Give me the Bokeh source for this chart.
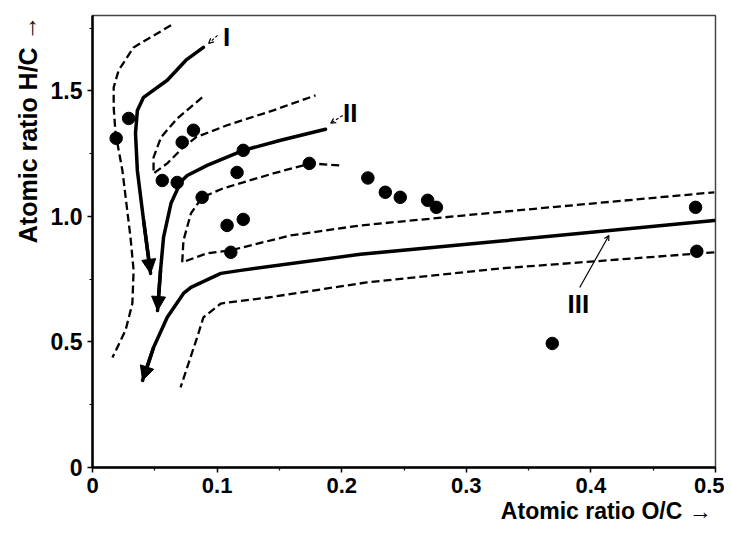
from bokeh.plotting import figure
from bokeh.models import FixedTicker, Range1d, Arrow, NormalHead, OpenHead, Title
from bokeh.core.properties import value
from bokeh.embed import file_html
from bokeh.resources import INLINE

# ---- data ----
sample_oc = [0.019, 0.029, 0.056, 0.068, 0.072, 0.081, 0.121, 0.116, 0.088, 0.108,
             0.121, 0.111, 0.174, 0.221, 0.235, 0.247, 0.269, 0.276, 0.484, 0.485, 0.369]
sample_hc = [1.311, 1.390, 1.143, 1.135, 1.295, 1.343, 1.263, 1.175, 1.076, 0.964,
             0.988, 0.857, 1.211, 1.153, 1.096, 1.076, 1.064, 1.036, 1.036, 0.861, 0.494]

# solid evolution paths (from start to arrow tip)
path1_oc = [0.089, 0.075, 0.060, 0.041, 0.036, 0.0345, 0.036, 0.041, 0.0466]
path1_hc = [1.673, 1.622, 1.542, 1.474, 1.422, 1.331, 1.183, 0.984, 0.773]
path2_oc = [0.187, 0.151, 0.121, 0.092, 0.076, 0.071, 0.063, 0.057, 0.0546, 0.0522]
path2_hc = [1.347, 1.303, 1.263, 1.203, 1.163, 1.139, 1.052, 0.916, 0.785, 0.625]
path3_oc = [0.499, 0.328, 0.215, 0.119, 0.103, 0.079, 0.073, 0.060, 0.049, 0.0402]
path3_hc = [0.984, 0.902, 0.849, 0.785, 0.773, 0.717, 0.693, 0.598, 0.478, 0.347]

# dashed band boundaries
band1_oc = [0.063, 0.033, 0.021, 0.017, 0.017, 0.0185, 0.024, 0.0305, 0.033, 0.032, 0.0265, 0.016]
band1_hc = [1.761, 1.673, 1.582, 1.514, 1.434, 1.331, 1.183, 0.916, 0.785, 0.653, 0.546, 0.438]
band2_oc = [0.088, 0.068, 0.055, 0.049, 0.049, 0.060, 0.072, 0.083, 0.108, 0.145, 0.179]
band2_hc = [1.474, 1.390, 1.315, 1.235, 1.171, 1.211, 1.271, 1.315, 1.363, 1.422, 1.482]
band3_oc = [0.198, 0.175, 0.145, 0.105, 0.088, 0.079, 0.073, 0.072, 0.092, 0.111, 0.159, 0.215, 0.328, 0.499]
band3_hc = [1.203, 1.211, 1.171, 1.112, 1.076, 1.012, 0.904, 0.817, 0.853, 0.865, 0.924, 0.964, 1.018, 1.096]
band4_oc = [0.499, 0.328, 0.220, 0.141, 0.103, 0.089, 0.084, 0.077, 0.0707]
band4_hc = [0.857, 0.793, 0.737, 0.677, 0.653, 0.598, 0.518, 0.414, 0.319]

# type labels and leaders
type_labels = ["I", "II", "III"]
type_label_oc = [0.1076, 0.2068, 0.390]
type_label_hc = [1.713, 1.410, 0.653]
leader_start_oc = [0.1004, 0.2008, 0.391]
leader_start_hc = [1.721, 1.402, 0.717]
leader_end_oc = [0.0932, 0.1912, 0.4145]
leader_end_hc = [1.689, 1.371, 0.924]

x_ticks = [0, 0.1, 0.2, 0.3, 0.4, 0.5]
x_tick_labels = ["0", "0.1", "0.2", "0.3", "0.4", "0.5"]
x_minor = [0.05, 0.15, 0.25, 0.35, 0.45]
y_ticks = [0, 0.5, 1.0, 1.5]
y_tick_labels = ["0", "0.5", "1.0", "1.5"]
y_minor = [0.25, 0.75, 1.25, 1.75]

x_title = "Atomic ratio O/C   \u2192"
y_title = "Atomic ratio H/C   \u2192"

FONT = "Liberation Sans"

p = figure(width=724, height=528, output_backend="svg", toolbar_location=None,
           x_range=Range1d(0, 0.5), y_range=Range1d(0, 1.8),
           min_border_left=92, min_border_right=9, min_border_top=15, min_border_bottom=61)
p.grid.visible = False
p.outline_line_color = "#444444"
p.outline_line_width = 1.5
p.background_fill_color = "white"
p.border_fill_color = "white"

for ax, ticks, labels, minor in ((p.xaxis[0], x_ticks, x_tick_labels, x_minor),
                                 (p.yaxis[0], y_ticks, y_tick_labels, y_minor)):
    ax.ticker = FixedTicker(ticks=ticks, minor_ticks=minor)
    ax.major_label_overrides = {t: l for t, l in zip(ticks, labels)}
    ax.axis_line_width = 2.5
    ax.axis_line_color = "black"
    ax.major_tick_in = 0
    ax.major_tick_out = 5
    ax.minor_tick_in = 0
    ax.minor_tick_out = 3
    ax.major_tick_line_width = 1.5
    ax.minor_tick_line_width = 1.2
    ax.major_label_text_font = FONT
    ax.major_label_text_font_style = "bold"
    ax.major_label_text_font_size = "22px"
    ax.major_label_text_color = "black"
p.xaxis.major_label_standoff = 5
p.yaxis.major_label_standoff = 5
p.yaxis.major_label_text_font_size = "23px"

# axis titles (placed like the reference: right / top aligned)
p.add_layout(Title(text=x_title, align="right", offset=-9, standoff=0,
                   text_font=FONT, text_font_style="bold", text_font_size="23px",
                   text_color="black"), "below")
p.add_layout(Title(text=y_title, align="right", offset=-14, standoff=11,
                   text_font=FONT, text_font_style="bold", text_font_size="25px",
                   text_color="black"), "left")

dash_kw = dict(line_color="black", line_width=2.3, line_dash="8 4")
for xs, ys in ((band1_oc, band1_hc), (band2_oc, band2_hc), (band3_oc, band3_hc), (band4_oc, band4_hc)):
    p.line(xs, ys, **dash_kw)

for xs, ys in ((path1_oc, path1_hc), (path2_oc, path2_hc), (path3_oc, path3_hc)):
    p.line(xs, ys, line_color="black", line_width=3.5, line_join="round", line_cap="round")
    p.add_layout(Arrow(end=NormalHead(size=14, fill_color="black", line_color="black", line_width=1),
                       x_start=xs[-2], y_start=ys[-2], x_end=xs[-1], y_end=ys[-1],
                       line_width=3.5, line_color="black"))

p.scatter(sample_oc, sample_hc, size=12.5, color="black", marker="circle")

for i in range(3):
    p.add_layout(Arrow(end=OpenHead(size=5, line_width=1.2, line_color="black"),
                       x_start=leader_start_oc[i], y_start=leader_start_hc[i],
                       x_end=leader_end_oc[i], y_end=leader_end_hc[i],
                       line_width=1.2, line_color="black",
                       line_dash="solid" if i == 2 else "3 2"))

p.text(type_label_oc, type_label_hc, text=type_labels, text_font=value(FONT),
       text_font_style="bold", text_font_size="26px", text_align="center",
       text_baseline="middle", text_color="black")

open("out.html", "w").write(file_html(p, INLINE))
